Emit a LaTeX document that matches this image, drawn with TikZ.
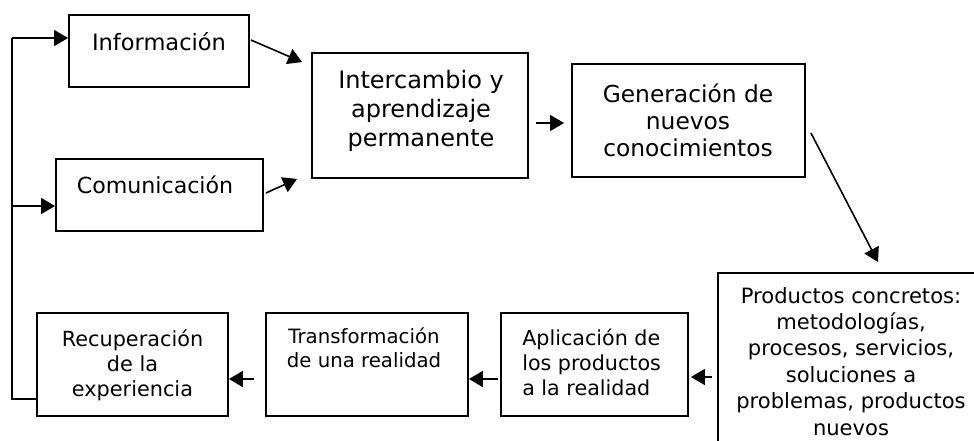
\documentclass[tikz,border=0pt]{standalone}
\usepackage{fontspec}
\setmainfont{DejaVu Sans}
\usetikzlibrary{arrows.meta}
\newcommand\mlines[4]{{\fontsize{#1pt}{#2pt}\selectfont\begin{tabular}[t]{@{}#3@{}}#4\end{tabular}}}
\tikzset{
  box/.style={draw=black, line width=1.4pt, rectangle, inner sep=0pt, fill=none},
  txt/.style={inner sep=0pt, anchor=base},
  arr/.style={line width=1.2pt, -{Triangle[length=10.5pt,width=12pt]}},
  ln/.style={line width=1.2pt}
}
\begin{document}
\begin{tikzpicture}[x=0.75pt,y=-0.75pt]
\useasboundingbox (0,0) rectangle (974,440);
\clip (0,0) rectangle (974,440);
\fill[white] (0,0) rectangle (974,440);
% boxes
\node[box, minimum width=180*0.75pt, minimum height=72*0.75pt] (info) at (159,51) {};
\node[box, minimum width=207*0.75pt, minimum height=72*0.75pt] (comu) at (159.5,195) {};
\node[box, minimum width=216*0.75pt, minimum height=125*0.75pt] (inter) at (420,115.5) {};
\node[box, minimum width=233*0.75pt, minimum height=113*0.75pt] (gen) at (688.5,120.5) {};
\node[box, minimum width=266*0.75pt, minimum height=177*0.75pt] (prod) at (851,361.5) {};
\node[box, minimum width=187*0.75pt, minimum height=103*0.75pt] (apl) at (594.5,364.5) {};
\node[box, minimum width=202*0.75pt, minimum height=103*0.75pt] (trans) at (367,364.5) {};
\node[box, minimum width=191*0.75pt, minimum height=103*0.75pt] (recu) at (132.5,364.5) {};
% texts
\node[txt] (infot) at (159,50) {\mlines{16.9}{21}{c}{Información}};
\node[txt] (comut) at (155,193) {\mlines{16.6}{21}{c}{Comunicación}};
\node[txt] (intert) at (421,88) {\mlines{18}{21.75}{c}{Intercambio y\\aprendizaje\\permanente}};
\node[txt] (gent) at (688,102) {\mlines{17.5}{20.6}{c}{Generación de\\nuevos\\conocimientos}};
\node[txt] (prodt) at (851,303) {\mlines{15.8}{19.8}{c}{Productos concretos:\\metodologías,\\procesos, servicios,\\soluciones a\\problemas, productos\\nuevos}};
\node[txt, anchor=base west] (aplt) at (522,345) {\mlines{15.5}{19.1}{l}{Aplicación de\\los productos\\a la realidad}};
\node[txt] (transt) at (364,343) {\mlines{14.8}{18}{c}{Transformación\\de una realidad}};
\node[txt] (recut) at (132.5,346) {\mlines{15.6}{19.1}{c}{Recuperación\\de la\\experiencia}};
% connectors
\coordinate (fbL) at (12,399);
\coordinate (fbT) at (12,38);
\coordinate (fbM) at (12,206);
\coordinate (ry1) at (0,377);
\coordinate (ry2) at (0,379);
\coordinate (ry3) at (0,123);
\draw[ln] (recu.west |- fbL) -- (fbL) -- (fbT);
\draw[arr] (fbT) -- (info.west |- fbT);
\draw[arr] (fbM) -- (comu.west |- fbM);
\draw[arr] ([shift={(1,-11)}]info.east) -- ([shift={(-9,10)}]inter.north west);
\draw[arr] ([shift={(2,-2)}]comu.east) -- ([shift={(-14,0)}]inter.south west);
\draw[arr, shorten <=5.25pt, shorten >=5.25pt] (inter.east |- ry3) -- (gen.west |- ry3);
\draw[arr] ([shift={(5,12.5)}]gen.east) -- ([shift={(27,-10)}]prod.north);
\draw[arr, shorten <=3.75pt, shorten >=1.5pt] (prod.west |- ry1) -- (apl.east |- ry1);
\draw[arr, shorten <=1.5pt] (apl.west |- ry2) -- (trans.east |- ry2);
\draw[arr, shorten <=8.25pt] (trans.west |- ry2) -- (recu.east |- ry2);
\end{tikzpicture}
\end{document}
